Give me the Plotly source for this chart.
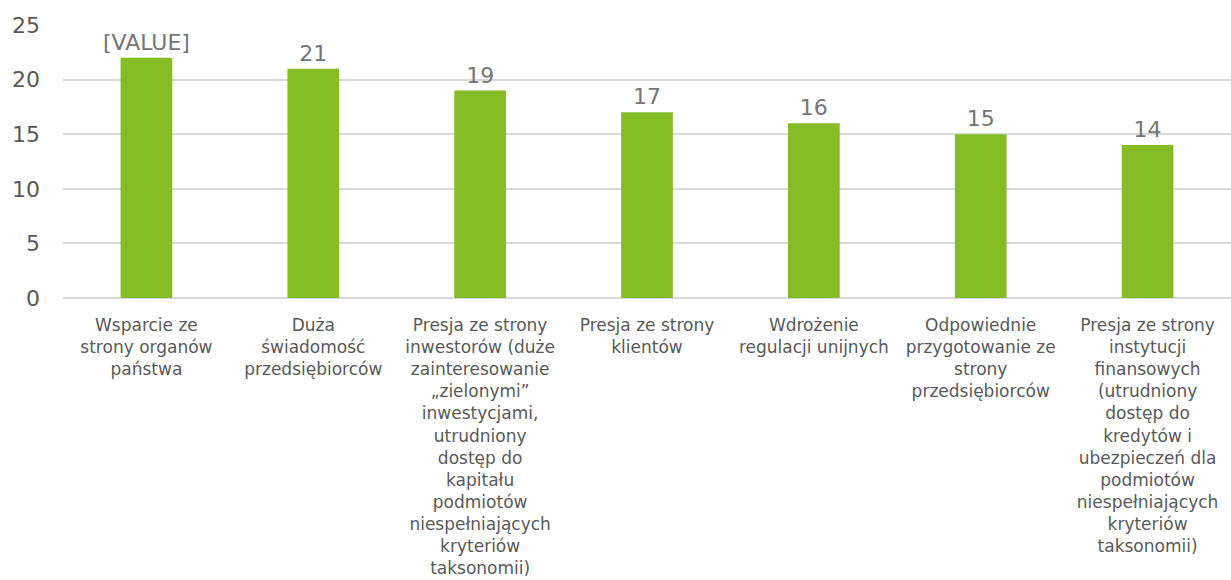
import plotly.graph_objects as go

categories = [
    "Wsparcie ze\nstrony organów\npaństwa",
    "Duża\nświadomość\nprzedsiębiorców",
    "Presja ze strony\ninwestorów (duże\nzainteresowanie\n„zielonymi”\ninwestycjami,\nutrudniony\ndostęp do\nkapitału\npodmiotów\nniespełniających\nkryteriów\ntaksonomii)",
    "Presja ze strony\nklientów",
    "Wdrożenie\nregulacji unijnych",
    "Odpowiednie\nprzygotowanie ze\nstrony\nprzedsiębiorców",
    "Presja ze strony\ninstytucji\nfinansowych\n(utrudniony\ndostęp do\nkredytów i\nubezpieczeń dla\npodmiotów\nniespełniających\nkryteriów\ntaksonomii)",
]
values = [22, 21, 19, 17, 16, 15, 14]
value_labels = ["[VALUE]", "21", "19", "17", "16", "15", "14"]
y_ticks = [0, 5, 10, 15, 20, 25]

labels_html = [c.replace("\n", "<br>") for c in categories]
x_idx = list(range(len(categories)))

fig = go.Figure(
    go.Bar(
        x=x_idx,
        y=values,
        text=value_labels,
        textposition="outside",
        constraintext="none",
        textfont=dict(size=22, color="#757575", family="DejaVu Sans"),
        marker=dict(color="#86BC25", line=dict(width=0)),
        width=0.31,
        cliponaxis=False,
    )
)

fig.update_layout(
    width=1231,
    height=580,
    margin=dict(l=63, r=0, t=25, b=282),
    plot_bgcolor="white",
    paper_bgcolor="white",
    showlegend=False,
    font=dict(family="DejaVu Sans", color="#595959"),
    xaxis=dict(
        tickmode="array",
        tickvals=x_idx,
        ticktext=labels_html,
        tickangle=0,
        tickfont=dict(size=17, color="#595959"),
        range=[-0.5, len(categories) - 0.5],
        showgrid=False,
        zeroline=False,
        showline=False,
        ticks="",
        ticklabelstandoff=15,
    ),
    yaxis=dict(
        range=[0, 25],
        tickvals=y_ticks,
        tickfont=dict(size=22, color="#595959"),
        showgrid=True,
        gridcolor="#D9D9D9",
        gridwidth=1.5,
        zeroline=True,
        zerolinecolor="#D9D9D9",
        zerolinewidth=1.5,
        showline=False,
        ticks="",
        ticklabelstandoff=22,
    ),
)

fig.write_html("out.html")
